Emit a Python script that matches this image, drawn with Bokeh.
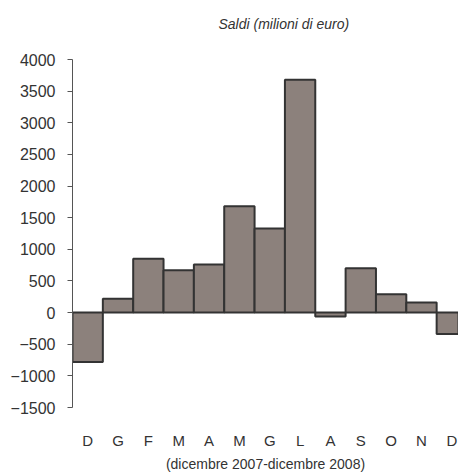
from bokeh.plotting import figure
from bokeh.models import ColumnDataSource, FixedTicker, Range1d, Title
from bokeh.embed import file_html
from bokeh.resources import INLINE

title_text = "Saldi (milioni di euro)"
months = ["D", "G", "F", "M", "A", "M", "G", "L", "A", "S", "O", "N", "D"]
saldi = [-780, 220, 850, 670, 760, 1680, 1330, 3680, -60, 700, 290, 160, -340]
y_ticks = list(range(-1500, 4001, 500))

idx = list(range(len(months)))
src = ColumnDataSource(dict(x=idx, top=saldi))

p = figure(width=458, height=474, output_backend="svg", toolbar_location=None,
           x_range=Range1d(-0.5, 12.22), y_range=Range1d(-1500, 4000),
           min_border_left=72, min_border_right=0, min_border_top=59, min_border_bottom=66)
p.outline_line_color = None
p.grid.visible = False

p.vbar(x="x", top="top", bottom=0, width=1.0, source=src,
       fill_color="#8c817c", line_color="#333333", line_width=2)

spacer = Title(text=" ", standoff=10, text_font_size="14px")
p.add_layout(spacer, "above")
title = Title(text=title_text, text_font="Liberation Sans", text_font_style="italic",
              text_font_size="14px", text_color="#333333", align="left",
              offset=146, standoff=0)
p.add_layout(title, "above")

ya = p.yaxis[0]
ya.ticker = FixedTicker(ticks=y_ticks)
ya.axis_line_color = "#555555"
ya.major_tick_line_color = "#555555"
ya.major_tick_out = 5
ya.major_tick_in = 0
ya.minor_tick_line_color = None
ya.major_label_standoff = 12
ya.major_label_text_font = "Liberation Sans"
ya.major_label_text_font_size = "16px"
ya.major_label_text_color = "#333333"

xa = p.xaxis[0]
xa.ticker = FixedTicker(ticks=idx)
xa.major_label_overrides = {i: m for i, m in zip(idx, months)}
xa.axis_line_color = None
xa.major_tick_line_color = None
xa.minor_tick_line_color = None
xa.major_tick_out = 0
xa.major_label_standoff = 24
xa.major_label_text_font = "Liberation Sans"
xa.major_label_text_font_size = "15px"
xa.major_label_text_color = "#333333"
xa.axis_label = "(dicembre 2007-dicembre 2008)"
xa.axis_label_standoff = 4
xa.axis_label_text_font = "Liberation Sans"
xa.axis_label_text_font_style = "normal"
xa.axis_label_text_font_size = "14px"
xa.axis_label_text_color = "#333333"

open("out.html", "w").write(file_html(p, INLINE))
